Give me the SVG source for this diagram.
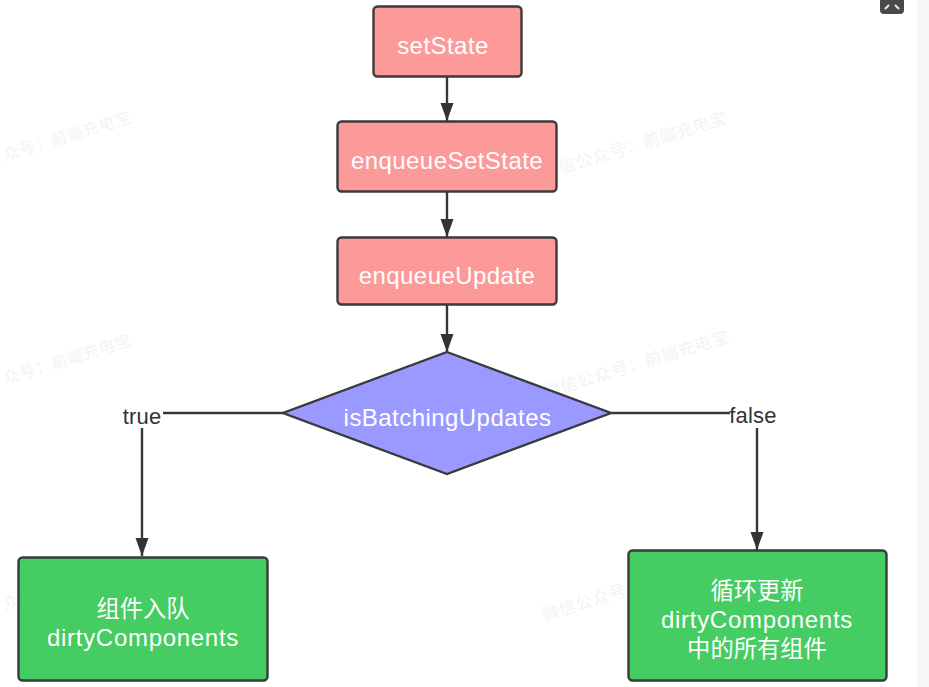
<svg xmlns="http://www.w3.org/2000/svg" width="929" height="687" viewBox="0 0 929 687">
<style>
.n{stroke:#3a3a3a;stroke-width:2.4}
.t{font:24px "Liberation Sans","Noto Sans CJK SC",sans-serif;letter-spacing:.45px;fill:#fff;text-anchor:middle}
.z{font-size:23.3px;letter-spacing:0}
.d{letter-spacing:.7px}
.c{fill:none;stroke:#383838;stroke-width:2.4}
.l{font:22px "Liberation Sans",sans-serif;letter-spacing:.2px;fill:#333;text-anchor:middle}
.w{font:17px "Noto Sans CJK SC",sans-serif;fill:#f3f3f3;letter-spacing:.5px}
.e{font-size:16px;letter-spacing:.7px}
</style>
<defs><marker id="a" markerUnits="userSpaceOnUse" markerWidth="19" markerHeight="14" refX="18" refY="6.500" orient="auto"><path d="M0 0L18 6.500L0 13Z" fill="#333"/></marker></defs>
<rect width="929" height="687" fill="#fff"/>
<rect x="917" width="12" height="687" fill="#f6f6f6"/>
<g id="button"><path d="M880 0H904V10Q904 14 900 14H884Q880 14 880 10Z" fill="#4a4a4a"/>
<path d="M885 9L889 5M899 9L895 5" stroke="#e8e8e8" stroke-width="2"/></g>
<g id="watermarks">
<text class="w e" transform="translate(5 161) rotate(-17)">众号：前端充电宝</text>
<text class="w e" transform="translate(5 384) rotate(-17)">众号：前端充电宝</text>
<text class="w" transform="translate(561 174) rotate(-17)">信公众号：前端充电宝</text>
<text class="w" transform="translate(546 398) rotate(-17)">微信公众号：前端充电宝</text>
<text class="w e" transform="translate(5 610) rotate(-17)">众</text>
<text class="w" transform="translate(544 621) rotate(-17)">微信公众号</text>
</g>
<g id="connectors">
<path class="c" d="M447 77V121" marker-end="url(#a)"/>
<path class="c" d="M447 192V237" marker-end="url(#a)"/>
<path class="c" d="M447 305V352" marker-end="url(#a)"/>
<path class="c" d="M283 413H163"/>
<path class="c" d="M142 428V556" marker-end="url(#a)"/>
<path class="c" d="M611 413H730"/>
<path class="c" d="M757 428V550" marker-end="url(#a)"/>
</g>
<g id="label-true"><text class="l" x="142" y="424">true</text></g>
<g id="label-false"><text class="l" x="753" y="423">false</text></g>
<g id="setState"><rect class="n" x="373.500" y="6.500" width="148" height="70" rx="4" fill="#fc9a9a"/><text class="t" x="443" y="54">setState</text></g>
<g id="enqueueSetState"><rect class="n" x="337.500" y="121.500" width="219" height="70" rx="4" fill="#fc9a9a"/><text class="t" x="447" y="169">enqueueSetState</text></g>
<g id="enqueueUpdate"><rect class="n" x="337.500" y="237.500" width="219" height="67" rx="4" fill="#fc9a9a"/><text class="t" x="447" y="284">enqueueUpdate</text></g>
<g id="isBatchingUpdates"><path class="n" d="M447 352L611 413L447 474L283 413Z" fill="#9999ff"/><text class="t" x="447.500" y="426">isBatchingUpdates</text></g>
<g id="queue"><rect class="n" x="18.500" y="557.500" width="249" height="123" rx="4" fill="#45cc62"/><text class="t z" x="143" y="617">组件入队</text><text class="t d" x="143" y="646">dirtyComponents</text></g>
<g id="loop"><rect class="n" x="628.500" y="550.500" width="258" height="130" rx="4" fill="#45cc62"/><text class="t z" x="757" y="599">循环更新</text><text class="t d" x="757" y="628">dirtyComponents</text><text class="t z" x="757" y="657">中的所有组件</text></g>
</svg>
